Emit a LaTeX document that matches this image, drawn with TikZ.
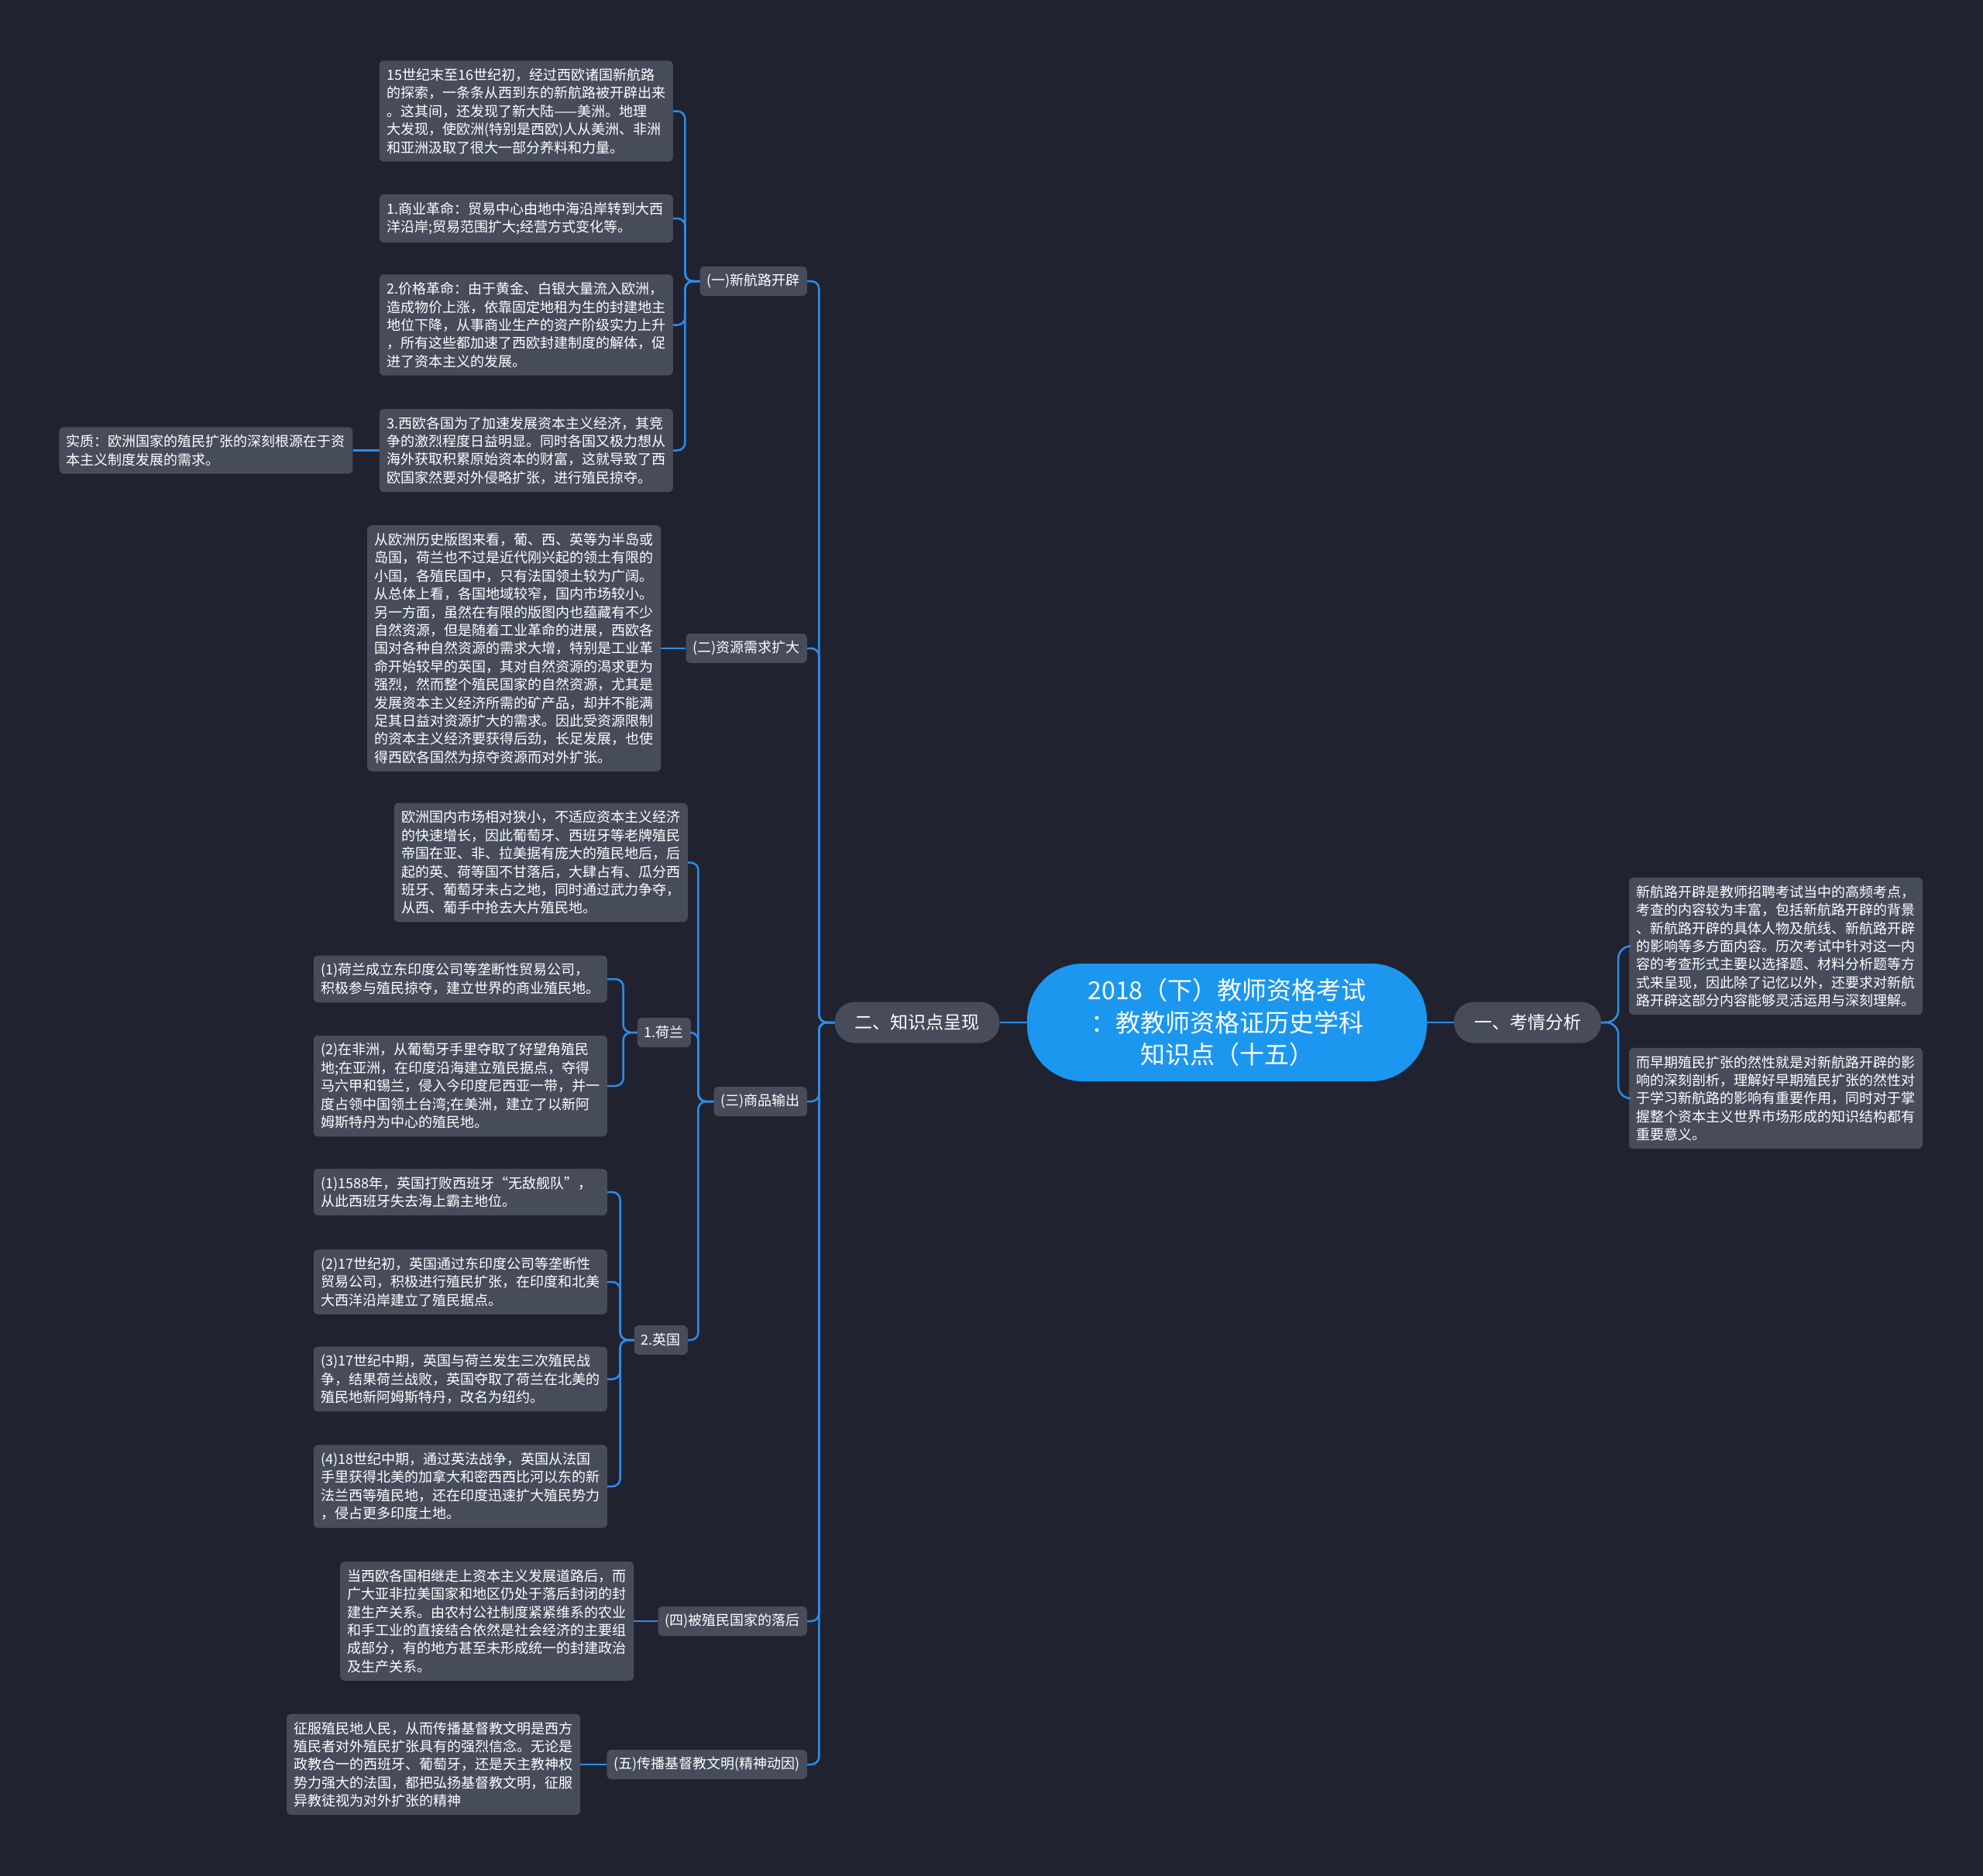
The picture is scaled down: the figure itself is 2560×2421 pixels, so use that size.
\documentclass[tikz,border=0pt]{standalone}
\usepackage{fontspec}
\setmainfont{Noto Sans CJK SC}
\usepackage{tikz}
\usetikzlibrary{positioning}
\definecolor{bgcolor}{HTML}{20232F}
\definecolor{boxgray}{HTML}{474C5B}
\definecolor{linkblue}{HTML}{2B8DEB}
\definecolor{rootblue}{HTML}{1B97F0}
\tikzset{
	leafnode/.style={fill=boxgray, text=white, rounded corners=6pt, align=left,
			text width=360pt, inner xsep=9.5pt, inner ysep=10pt,
			font=\fontsize{18}{23.4}\selectfont}
}
\tikzset{
	subnode/.style={fill=boxgray, text=white, rounded corners=6pt, inner xsep=9pt,
			minimum height=38pt, font=\fontsize{18}{22}\selectfont}
}
\tikzset{
	mainnode/.style={fill=boxgray, text=white, rounded corners=26pt, inner xsep=26pt,
			minimum height=53pt, font=\fontsize{23}{26}\selectfont}
}
\tikzset{
	rootnode/.style={fill=rootblue, text=white, rounded corners=72pt, align=center,
			minimum width=516pt, minimum height=152pt,
			font=\fontsize{32}{41.6}\selectfont}
}
\tikzset{
	conn/.style={draw=linkblue, line width=2.5pt, rounded corners=10pt}
}
\begin{document}
\begin{tikzpicture}[x=1pt, y=-1pt]

	\useasboundingbox (0,0) rectangle (2560,2421);
	\fill[bgcolor] (-10,-10) rectangle (2570,2431);

	\node[rootnode] (root) at (1584,1320) {2018（下）教师资格考试\\：教教师资格证历史学科\\知识点（十五）};
	\node[mainnode] (zsd) at (1184,1320) {二、知识点呈现};
	\node[mainnode] (kqfx) at (1972,1320) {一、考情分析};

	\begin{scope}
		\node[leafnode] (kq1) at (2292.5,1221.5) {新航路开辟是教师招聘考试当中的高频考点，\\考查的内容较为丰富，包括新航路开辟的背景\\、新航路开辟的具体人物及航线、新航路开辟\\的影响等多方面内容。历次考试中针对这一内\\容的考查形式主要以选择题、材料分析题等方\\式来呈现，因此除了记忆以外，还要求对新航\\路开辟这部分内容能够灵活运用与深刻理解。};
		\node[leafnode] (kq2) at (2292.5,1418) {而早期殖民扩张的然性就是对新航路开辟的影\\响的深刻剖析，理解好早期殖民扩张的然性对\\于学习新航路的影响有重要作用，同时对于掌\\握整个资本主义世界市场形成的知识结构都有\\重要意义。};
	\end{scope}

	\begin{scope}
		\node[subnode, anchor=east] (s1) at (1042,363) {(一)新航路开辟};
		\node[subnode, anchor=east] (s2) at (1042,837) {(二)资源需求扩大};
		\node[subnode, anchor=east] (s3) at (1042,1422) {(三)商品输出};
		\node[subnode, anchor=east] (s4) at (1042,2093) {(四)被殖民国家的落后};
		\node[subnode, anchor=east] (s5) at (1042,2278) {(五)传播基督教文明(精神动因)};
	\end{scope}

	\begin{scope}
		\node[leafnode, anchor=east] (hl1) at (869,143.5) {15世纪末至16世纪初，经过西欧诸国新航路\\的探索，一条条从西到东的新航路被开辟出来\\。这其间，还发现了新大陆——美洲。地理\\大发现，使欧洲(特别是西欧)人从美洲、非洲\\和亚洲汲取了很大一部分养料和力量。};
		\node[leafnode, anchor=east] (hl2) at (869,282) {1.商业革命：贸易中心由地中海沿岸转到大西\\洋沿岸;贸易范围扩大;经营方式变化等。};
		\node[leafnode, anchor=east] (hl3) at (869,419.5) {2.价格革命：由于黄金、白银大量流入欧洲，\\造成物价上涨，依靠固定地租为生的封建地主\\地位下降，从事商业生产的资产阶级实力上升\\，所有这些都加速了西欧封建制度的解体，促\\进了资本主义的发展。};
		\node[leafnode, anchor=east] (hl4) at (869,581.5) {3.西欧各国为了加速发展资本主义经济，其竞\\争的激烈程度日益明显。同时各国又极力想从\\海外获取积累原始资本的财富，这就导致了西\\欧国家然要对外侵略扩张，进行殖民掠夺。};
		\node[leafnode, left=34pt of hl4] (essence) {实质：欧洲国家的殖民扩张的深刻根源在于资\\本主义制度发展的需求。};
	\end{scope}

	\node[leafnode, left=32pt of s2] (res) {从欧洲历史版图来看，葡、西、英等为半岛或\\岛国，荷兰也不过是近代刚兴起的领土有限的\\小国，各殖民国中，只有法国领土较为广阔。\\从总体上看，各国地域较窄，国内市场较小。\\另一方面，虽然在有限的版图内也蕴藏有不少\\自然资源，但是随着工业革命的进展，西欧各\\国对各种自然资源的需求大增，特别是工业革\\命开始较早的英国，其对自然资源的渴求更为\\强烈，然而整个殖民国家的自然资源，尤其是\\发展资本主义经济所需的矿产品，却并不能满\\足其日益对资源扩大的需求。因此受资源限制\\的资本主义经济要获得后劲，长足发展，也使\\得西欧各国然为掠夺资源而对外扩张。};

	\begin{scope}
		\node[leafnode, anchor=east] (mkt) at (888,1113.5) {欧洲国内市场相对狭小，不适应资本主义经济\\的快速增长，因此葡萄牙、西班牙等老牌殖民\\帝国在亚、非、拉美据有庞大的殖民地后，后\\起的英、荷等国不甘落后，大肆占有、瓜分西\\班牙、葡萄牙未占之地，同时通过武力争夺，\\从西、葡手中抢去大片殖民地。};
		\node[subnode, anchor=east] (nl) at (892,1333) {1.荷兰};
		\node[subnode, anchor=east] (uk) at (888,1730) {2.英国};

		\node[leafnode, anchor=east] (nl1) at (784,1264) {(1)荷兰成立东印度公司等垄断性贸易公司，\\积极参与殖民掠夺，建立世界的商业殖民地。};
		\node[leafnode, anchor=east] (nl2) at (784,1402) {(2)在非洲，从葡萄牙手里夺取了好望角殖民\\地;在亚洲，在印度沿海建立殖民据点，夺得\\马六甲和锡兰，侵入今印度尼西亚一带，并一\\度占领中国领土台湾;在美洲，建立了以新阿\\姆斯特丹为中心的殖民地。};

		\node[leafnode, anchor=east] (uk1) at (784,1539) {(1)1588年，英国打败西班牙“无敌舰队”，\\从此西班牙失去海上霸主地位。};
		\node[leafnode, anchor=east] (uk2) at (784,1655) {(2)17世纪初，英国通过东印度公司等垄断性\\贸易公司，积极进行殖民扩张，在印度和北美\\大西洋沿岸建立了殖民据点。};
		\node[leafnode, anchor=east] (uk3) at (784,1780.5) {(3)17世纪中期，英国与荷兰发生三次殖民战\\争，结果荷兰战败，英国夺取了荷兰在北美的\\殖民地新阿姆斯特丹，改名为纽约。};
		\node[leafnode, anchor=east] (uk4) at (784,1919) {(4)18世纪中期，通过英法战争，英国从法国\\手里获得北美的加拿大和密西西比河以东的新\\法兰西等殖民地，还在印度迅速扩大殖民势力\\，侵占更多印度土地。};
	\end{scope}

	\node[leafnode, left=31pt of s4] (lag) {当西欧各国相继走上资本主义发展道路后，而\\广大亚非拉美国家和地区仍处于落后封闭的封\\建生产关系。由农村公社制度紧紧维系的农业\\和手工业的直接结合依然是社会经济的主要组\\成部分，有的地方甚至未形成统一的封建政治\\及生产关系。};
	\node[leafnode, left=34pt of s5] (faith) {征服殖民地人民，从而传播基督教文明是西方\\殖民者对外殖民扩张具有的强烈信念。无论是\\政教合一的西班牙、葡萄牙，还是天主教神权\\势力强大的法国，都把弘扬基督教文明，征服\\异教徒视为对外扩张的精神};

	\begin{scope}
		\draw[conn] (root.west) -- (zsd.east);
		\draw[conn] (root.east) -- (kqfx.east -| kqfx.west);
		\foreach \c in {kq1,kq2}
			\draw[conn, rounded corners=16pt] (kqfx.east) -- ++(22,0) |- (\c.west);
		\foreach \c in {s1,s2,s3,s4,s5}
			\draw[conn] (zsd.west) -- ++(-20,0) |- (\c.east);
		\foreach \c in {hl1,hl2,hl3,hl4}
			\draw[conn] (s1.west) -- ++(-19,0) |- (\c.east);
		\foreach \c in {mkt,nl,uk}
			\draw[conn] (s3.west) -- ++(-20,0) |- (\c.east);
		\foreach \c in {nl1,nl2}
			\draw[conn] (nl.west) -- ++(-18,0) |- (\c.east);
		\foreach \c in {uk1,uk2,uk3,uk4}
			\draw[conn] (uk.west) -- ++(-18,0) |- (\c.east);
		\draw[conn] (hl4.west) -- (essence.east);
		\draw[conn] (s2.west) -- (res.east);
		\draw[conn] (s4.west) -- (lag.east);
		\draw[conn] (s5.west) -- (faith.east);
	\end{scope}

\end{tikzpicture}
\end{document}
